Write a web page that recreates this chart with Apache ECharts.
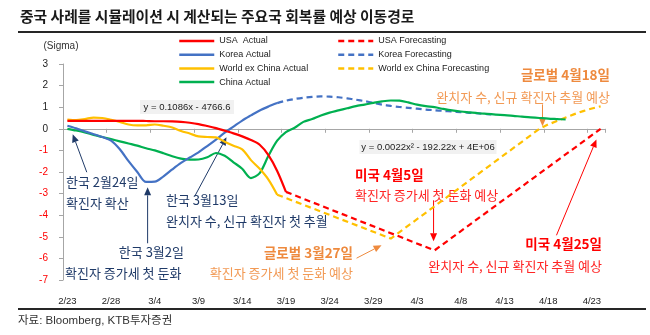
<!DOCTYPE html>
<html>
<head>
<meta charset="utf-8">
<script src="https://cdn.jsdelivr.net/npm/echarts@6/dist/echarts.min.js"></script>
<style>
  html, body { margin: 0; padding: 0; background: #fff; }
  #chart { width: 650px; height: 335px; }
</style>
</head>
<body>
<div id="chart"></div>
<script>
// Daily categories, 2020-02-23 through 2020-04-24
const categories = [
  '2/23','2/24','2/25','2/26','2/27','2/28','2/29',
  '3/1','3/2','3/3','3/4','3/5','3/6','3/7','3/8','3/9','3/10','3/11','3/12','3/13','3/14','3/15',
  '3/16','3/17','3/18','3/19','3/20','3/21','3/22','3/23','3/24','3/25','3/26','3/27','3/28','3/29','3/30','3/31',
  '4/1','4/2','4/3','4/4','4/5','4/6','4/7','4/8','4/9','4/10','4/11','4/12','4/13','4/14','4/15','4/16',
  '4/17','4/18','4/19','4/20','4/21','4/22','4/23','4/24'
];

// Actual paths (sigma), one value per day starting 2/23
const usaActual = [0.37, 0.37, 0.37, 0.37, 0.37, 0.37, 0.37, 0.37, 0.37, 0.36, 0.35, 0.35, 0.34, 0.32,
  0.28, 0.22, 0.13, 0.03, -0.09, -0.21, -0.35, -0.52, -0.74, -1.22, -1.95, -2.92];
const koreaActual = [0.14, 0.02, -0.12, -0.25, -0.38, -0.55, -0.95, -1.5, -2.0, -2.46, -2.45, -2.2,
  -1.88, -1.58, -1.33, -1.09, -0.8, -0.5, -0.18, 0.1, 0.38, 0.62, 0.85, 1.03, 1.19];
const worldActual = [0.43, 0.40, 0.45, 0.52, 0.50, 0.42, 0.32, 0.20, 0.16, 0.16, 0.20, 0.14, 0.06,
  -0.10, -0.22, -0.35, -0.38, -0.40, -0.60, -0.78, -0.95, -1.45, -1.85, -2.35, -3.05];
const chinaActual = [0.0, -0.08, -0.17, -0.28, -0.38, -0.48, -0.58, -0.68, -0.78, -0.9, -1.0, -1.13,
  -1.27, -1.38, -1.43, -1.42, -1.32, -1.12, -1.25, -1.55, -1.85, -2.28, -2.05, -1.25, -0.55, -0.15,
  0.05, 0.32, 0.45, 0.62, 0.75, 0.85, 0.95, 1.05, 1.12, 1.2, 1.27, 1.31, 1.30, 1.22, 1.12, 1.05, 1.0,
  0.92, 0.85, 0.8, 0.76, 0.72, 0.69, 0.66, 0.63, 0.6, 0.56, 0.53, 0.5, 0.47, 0.45, 0.43];

// Forecast paths as [date, sigma]
const usaForecast = [['3/19', -2.92], ['4/5', -5.63], ['4/24', 0.0]];
const worldForecast = [['3/18', -3.05], ['3/31', -5.08], ['4/16', -0.3], ['4/17', 0.0], ['4/18', 0.2],
  ['4/19', 0.36], ['4/20', 0.52], ['4/21', 0.68], ['4/22', 0.82], ['4/23', 0.94], ['4/24', 1.04]];
const koreaForecast = [['3/18', 1.19], ['3/19', 1.30], ['3/20', 1.38], ['3/21', 1.44], ['3/22', 1.48],
  ['3/23', 1.50], ['3/24', 1.49], ['3/25', 1.46], ['3/26', 1.41], ['3/27', 1.35], ['3/28', 1.28],
  ['3/29', 1.20], ['3/30', 1.12], ['3/31', 1.06], ['4/1', 1.01], ['4/2', 0.97], ['4/3', 0.93],
  ['4/4', 0.89], ['4/5', 0.86], ['4/6', 0.83], ['4/7', 0.80], ['4/8', 0.77], ['4/9', 0.74],
  ['4/10', 0.71], ['4/11', 0.68], ['4/12', 0.65]];

const yTicks = { min: -7, max: 3, step: 1 };

const LATIN = "'Liberation Sans', Arial, sans-serif";
const KR = "'Noto Sans CJK KR', 'Noto Sans', sans-serif";
const MIXED = "'Liberation Sans', 'Noto Sans CJK KR', sans-serif";

const RED = '#FF0000', BLUE = '#4472C4', GOLD = '#FFC000', GREEN = '#00B050';
const NAVY = '#1F3A68', ORANGE = '#EE8A3E', ORANGE_LT = '#F29A55', RED_TXT = '#FF2424';

const chart = echarts.init(document.getElementById('chart'), null, { renderer: 'canvas' });

function lineSeries(name, data, color, dashed, smooth) {
  return {
    name, type: 'line', data, symbol: 'none', showSymbol: false, silent: true,
    smooth: smooth ? 0.3 : false,
    lineStyle: { color, width: 2.2, type: dashed ? [6, 4] : 'solid' },
    itemStyle: { color }
  };
}

const legendBase = {
  orient: 'vertical', top: 35, padding: 0, itemWidth: 35, itemHeight: 12, itemGap: 1.7,
  selectedMode: false,
  itemStyle: { opacity: 0 },
  lineStyle: { width: 2.5 },
  textStyle: { fontFamily: LATIN, fontSize: 9, color: '#222', lineHeight: 12 }
};

chart.setOption({
  animation: false,
  grid: { left: 63, right: 45, top: 64, bottom: 55 },
  legend: [
    Object.assign({ data: ['USA  Actual', 'Korea Actual', 'World ex China Actual', 'China Actual'], left: 178 }, legendBase),
    Object.assign({ data: ['USA Forecasting', 'Korea Forecasting', 'World ex China Forecasting'], left: 337 }, legendBase)
  ],
  xAxis: [
    {
      type: 'category', data: categories, boundaryGap: true, position: 'bottom',
      axisLine: { show: false, onZero: false }, axisTick: { show: false },
      axisLabel: { interval: 4, margin: 16, fontFamily: LATIN, fontSize: 9.5, color: '#222' },
      splitLine: { show: false }
    },
    {
      type: 'category', data: categories, boundaryGap: true, position: 'bottom',
      axisLine: { show: true, onZero: true, onZeroAxisIndex: 0, lineStyle: { color: '#A6A6A6', width: 1 } },
      axisTick: { show: true, interval: 4, length: 4, lineStyle: { color: '#A6A6A6' } },
      axisLabel: { show: false }, splitLine: { show: false }
    }
  ],
  yAxis: {
    type: 'value', min: yTicks.min, max: yTicks.max, interval: yTicks.step,
    axisLine: { show: true, lineStyle: { color: '#A6A6A6' } },
    axisTick: { show: true, length: 4, lineStyle: { color: '#A6A6A6' } },
    splitLine: { show: false },
    axisLabel: {
      margin: 15, fontFamily: LATIN, fontSize: 10,
      color: (v) => (Number(v) < 0 ? '#FF0000' : '#222')
    },
    name: '(Sigma)', nameLocation: 'end', nameGap: 13,
    nameTextStyle: { fontFamily: LATIN, fontSize: 10, color: '#333', align: 'center', padding: [0, 0, 0, -4] }
  },
  series: [
    lineSeries('Korea Forecasting', koreaForecast, BLUE, true, true),
    lineSeries('World ex China Forecasting', worldForecast, GOLD, true, false),
    lineSeries('USA Forecasting', usaForecast, RED, true, false),
    lineSeries('China Actual', chinaActual, GREEN, false, true),
    lineSeries('Korea Actual', koreaActual, BLUE, false, true),
    lineSeries('World ex China Actual', worldActual, GOLD, false, true),
    lineSeries('USA  Actual', usaActual, RED, false, true)
  ]
});

// Pixel position of (day index, sigma); fractional days are interpolated between categories
function px(d, v) {
  const i = Math.floor(d), f = d - i;
  const a = chart.convertToPixel({ xAxisIndex: 0, yAxisIndex: 0 }, [i, v]);
  if (f === 0) return a;
  const b = chart.convertToPixel({ xAxisIndex: 0, yAxisIndex: 0 }, [i + 1, v]);
  return [a[0] + (b[0] - a[0]) * f, a[1]];
}

function arrow(tail, tip, color) {
  const [x1, y1] = px(tail[0], tail[1]);
  const [x2, y2] = px(tip[0], tip[1]);
  const ang = Math.atan2(y2 - y1, x2 - x1), L = 8, W = 3.5;
  const bx = x2 - L * Math.cos(ang), by = y2 - L * Math.sin(ang);
  const nx = -Math.sin(ang) * W, ny = Math.cos(ang) * W;
  return [
    { type: 'line', silent: true, shape: { x1, y1, x2: bx, y2: by }, style: { stroke: color, lineWidth: 1 } },
    { type: 'polygon', silent: true, shape: { points: [[x2, y2], [bx + nx, by + ny], [bx - nx, by - ny]] }, style: { fill: color } }
  ];
}

function label(x, y, text, color, opts) {
  opts = opts || {};
  return {
    type: 'text', silent: true, x, y,
    style: {
      text, fill: color, align: opts.align || 'left', verticalAlign: 'middle',
      font: (opts.bold ? 'bold ' : '') + (opts.size || 13) + 'px ' + (opts.family || KR)
    }
  };
}

function equation(cx, cy, w, text) {
  return [
    { type: 'rect', silent: true, shape: { x: cx - w / 2, y: cy - 7, width: w, height: 14 }, style: { fill: '#F1F1F1' } },
    label(cx, cy, text, '#222', { align: 'center', size: 9.5, family: LATIN })
  ];
}

// Arrows: [tail], [tip] in (day index, sigma)
const arrows = [
  [[2.22, -2.01], [0.61, -0.25], NAVY],
  [[9.18, -5.30], [9.18, -2.71], NAVY],
  [[14.56, -3.13], [18.2, -0.39], NAVY],
  [[33.08, -5.99], [35.94, -5.39], ORANGE],
  [[41.89, -3.31], [41.89, -5.21], RED],
  [[55.95, -4.93], [60.52, -0.49], RED],
  [[54.35, 1.13], [54.35, 0.12], ORANGE]
];

const elements = [
  label(20, 16, '중국 사례를 시뮬레이션 시 계산되는 주요국 회복률 예상 이동경로', '#1a1a1a', { bold: true, size: 14.8 }),
  { type: 'line', silent: true, shape: { x1: 18, y1: 32, x2: 646, y2: 32 }, style: { stroke: '#262626', lineWidth: 2 } },
  { type: 'line', silent: true, shape: { x1: 18, y1: 309, x2: 646, y2: 309 }, style: { stroke: '#262626', lineWidth: 2 } },
  label(18, 321, '자료: Bloomberg, KTB투자증권', '#333', { size: 11.5, family: MIXED }),
  ...equation(187, 107, 94, 'y = 0.1086x - 4766.6'),
  ...equation(428, 147, 137, 'y = 0.0022x² - 192.22x + 4E+06'),

  label(66, 182, '한국 2월24일', NAVY),
  label(66, 203, '확진자 확산', NAVY),
  label(166, 200, '한국 3월13일', NAVY),
  label(166, 221, '완치자 수, 신규 확진자 첫 추월', NAVY),
  label(184, 252, '한국 3월2일', NAVY, { align: 'right' }),
  label(65, 273, '확진자 증가세 첫 둔화', NAVY),

  label(353, 253, '글로벌 3월27일', ORANGE, { align: 'right', bold: true, size: 13.5 }),
  label(353, 273, '확진자 증가세 첫 둔화 예상', ORANGE_LT, { align: 'right' }),
  label(610, 75, '글로벌 4월18일', ORANGE, { align: 'right', bold: true, size: 13.5 }),
  label(610, 97, '완치자 수, 신규 확진자 추월 예상', ORANGE_LT, { align: 'right' }),

  label(355, 175, '미국 4월5일', RED, { bold: true, size: 13.5 }),
  label(355, 195, '확진자 증가세 첫 둔화 예상', RED_TXT),
  label(602, 244, '미국 4월25일', RED, { align: 'right', bold: true, size: 13.5 }),
  label(602, 266, '완치자 수, 신규 확진자 추월 예상', RED_TXT, { align: 'right' })
];
arrows.forEach(([tail, tip, c]) => elements.push(...arrow(tail, tip, c)));

chart.setOption({ graphic: { elements } });
</script>
</body>
</html>
